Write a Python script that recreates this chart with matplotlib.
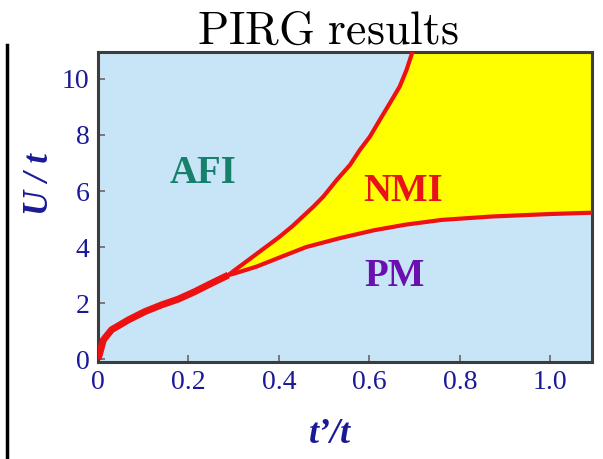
import matplotlib
matplotlib.use("Agg")
import matplotlib.pyplot as plt
from matplotlib.lines import Line2D

# ---- data ----
title = "PIRG results"
merged_x = [0.0, 0.004, 0.012, 0.03, 0.067, 0.104, 0.141, 0.177, 0.214, 0.251, 0.288]
merged_y = [0.0, 0.22, 0.69, 1.05, 1.40, 1.70, 1.94, 2.14, 2.41, 2.71, 3.00]
afi_x = [0.288, 0.30, 0.35, 0.40, 0.43, 0.46, 0.476, 0.498, 0.528, 0.557, 0.579, 0.601,
         0.623, 0.645, 0.667, 0.682, 0.693, 0.70]
afi_y = [3.00, 3.15, 3.75, 4.35, 4.75, 5.20, 5.44, 5.80, 6.40, 6.93, 7.47, 7.94,
         8.54, 9.13, 9.73, 10.32, 10.86, 11.2]
pm_x = [0.288, 0.30, 0.35, 0.40, 0.46, 0.535, 0.61, 0.68, 0.76, 0.87, 1.0, 1.1]
pm_y = [3.00, 3.05, 3.30, 3.62, 4.00, 4.32, 4.60, 4.80, 4.97, 5.09, 5.18, 5.23]
xticks = [0, 0.2, 0.4, 0.6, 0.8, 1.0]
xticklabels = ["0", "0.2", "0.4", "0.6", "0.8", "1.0"]
yticks = [0, 2, 4, 6, 8, 10]
region_labels = ["AFI", "NMI", "PM"]
region_x = [0.232, 0.674, 0.656]
region_y = [6.61, 6.0, 2.94]
region_colors = ["#17806c", "#e81218", "#6a10b0"]

XLIM = (0, 1.092)
YLIM = (-0.1, 10.96)
BLUE_BG = "#c8e5f7"
YELLOW = "#ffff00"
RED = "#ee1111"
NAVY = "#1a1a96"
SERIF = ["Liberation Serif", "DejaVu Serif"]

fig = plt.figure(figsize=(6.03, 4.59), dpi=100)
fig.patch.set_facecolor("white")
ax = fig.add_axes([98 / 603, 97 / 459, 494 / 603, 310 / 459])
ax.set_xlim(*XLIM)
ax.set_ylim(*YLIM)
ax.set_facecolor(BLUE_BG)

# NMI region polygon
poly_x = afi_x + [XLIM[1], XLIM[1]] + pm_x[::-1]
poly_y = afi_y + [YLIM[1] + 1, pm_y[-1]] + pm_y[::-1]
ax.fill(poly_x, poly_y, color=YELLOW, lw=0, zorder=1)

ax.plot(afi_x, afi_y, color=RED, lw=3, solid_capstyle="round",
        solid_joinstyle="round", zorder=3)
ax.plot(pm_x, pm_y, color=RED, lw=3, solid_capstyle="round",
        solid_joinstyle="round", zorder=3)
ax.plot(merged_x, merged_y, color=RED, lw=5, solid_capstyle="butt",
        solid_joinstyle="round", zorder=3)

for lab, x, y, c in zip(region_labels, region_x, region_y, region_colors):
    ax.text(x, y, lab, color=c, fontsize=28, fontweight="bold", family=SERIF,
            ha="center", va="center", zorder=4)

ax.set_xticks(xticks)
ax.set_xticklabels(xticklabels)
ax.set_yticks(yticks)
ax.tick_params(direction="in", length=5, width=1.2, color="#666666",
               labelcolor=NAVY, labelsize=20, pad=6)
for lbl in ax.get_xticklabels() + ax.get_yticklabels():
    lbl.set_family(SERIF)
for s in ax.spines.values():
    s.set_color("#3c3c3c")
    s.set_linewidth(2.2)

ax.set_ylabel("U / t", family=SERIF, fontsize=25, fontstyle="italic",
              fontweight="bold", color=NAVY)
ax.yaxis.set_label_coords(-0.085, 0.574)
ax.set_xlabel("t\u2019/t", family=SERIF, fontsize=26, fontstyle="italic",
              fontweight="bold", color=NAVY)
ax.xaxis.set_label_coords(0.47, -0.182)

plt.rcParams["mathtext.fontset"] = "cm"
fig.text(328 / 603, 1 - 44 / 459, r"$\mathrm{PIRG\ results}$", fontsize=33,
         ha="center", va="baseline", color="black")

# slide edge line on the left
fig.add_artist(Line2D([7 / 603, 7 / 603], [0, 1 - 45 / 459], color="black",
                      lw=2.5, transform=fig.transFigure))

fig.savefig("out.png", dpi=100)
